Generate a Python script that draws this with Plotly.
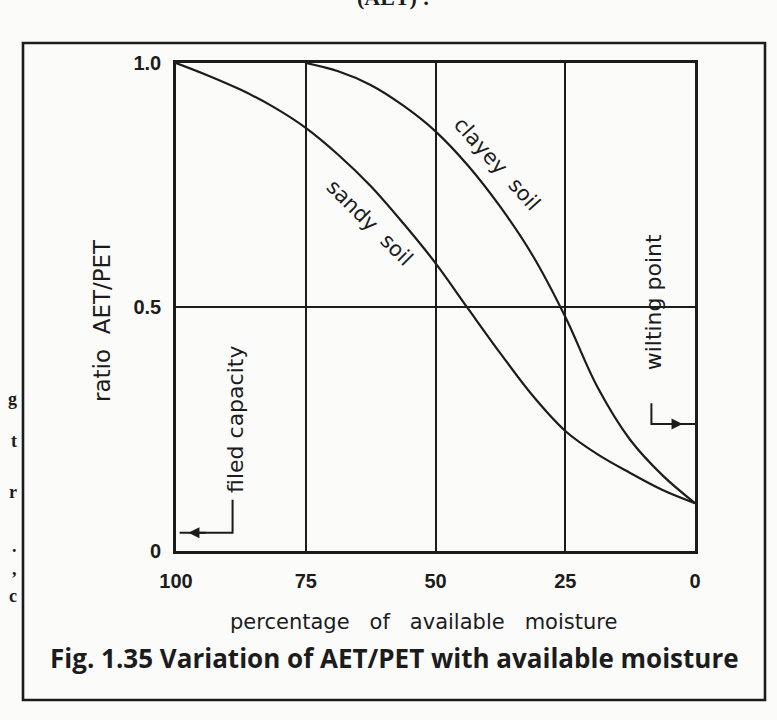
import plotly.graph_objects as go

# ---- data -------------------------------------------------------------
x_ticks = [100, 75, 50, 25, 0]
x_tick_text = ["100", "75", "50", "25", "0"]
y_ticks = [0, 0.5, 1.0]
y_tick_text = ["0", "0.5", "1.0"]

sandy_pct = [100, 93.75, 87.5, 81.25, 75, 68.75, 62.5, 56.25, 50,
             43.75, 37.5, 31.25, 25, 18.75, 12.5, 6.25, 0]
sandy_ratio = [1.0, 0.974, 0.945, 0.910, 0.867, 0.812, 0.748, 0.672, 0.590,
               0.497, 0.405, 0.318, 0.246, 0.198, 0.160, 0.125, 0.098]

clayey_pct = [75, 68.75, 62.5, 56.25, 50, 43.75, 37.5, 31.25, 25,
              18.75, 12.5, 6.25, 0]
clayey_ratio = [1.0, 0.983, 0.955, 0.913, 0.860, 0.790, 0.705, 0.605, 0.480,
                0.335, 0.228, 0.155, 0.098]

# ---- page geometry (pixels) --------------------------------------------
W, H = 777, 720
L, R, T, B = 176, 695, 63, 551


def px_x(x):
    return (x - L) / (R - L)


def px_y(y):
    return (B - y) / (B - T)


INK = "#1c1c1c"
PAPER = "#fbfbfa"
SANS = "DejaVu Sans"

fig = go.Figure()
for name, xs, ys in [("sandy soil", sandy_pct, sandy_ratio),
                     ("clayey soil", clayey_pct, clayey_ratio)]:
    fig.add_trace(go.Scatter(
        x=xs, y=ys, mode="lines", name=name,
        line=dict(color=INK, width=2.2, shape="spline", smoothing=1.0),
        hoverinfo="name+x+y",
    ))

axis_common = dict(
    showline=True, mirror=True, linecolor=INK, linewidth=2.6,
    showgrid=True, gridcolor=INK, gridwidth=2.2,
    zeroline=False, ticks="", fixedrange=True,
    tickfont=dict(family="Liberation Sans", size=20, color=INK, weight="bold"),
)

fig.update_xaxes(
    range=[100, 0], tickmode="array", tickvals=x_ticks, ticktext=x_tick_text,
    ticklabelstandoff=10, **axis_common,
)
fig.update_yaxes(
    range=[0, 1.0], tickmode="array", tickvals=y_ticks, ticktext=y_tick_text,
    ticklabelstandoff=8, **axis_common,
)


def note(x, y, text, ref="data", **kw):
    d = dict(x=x, y=y, text=text, showarrow=False,
             xanchor="center", yanchor="middle")
    if ref == "data":
        d.update(xref="x", yref="y")
    else:
        d.update(xref="paper", yref="paper")
    d.update(kw)
    return d


annotations = [
    # curve labels
    note(62.6, 0.673, "sandy\u00a0\u00a0soil", textangle=45,
         font=dict(family=SANS, size=21, color=INK)),
    note(38.1, 0.794, "clayey\u00a0\u00a0soil", textangle=48,
         font=dict(family=SANS, size=21, color=INK)),
    # moisture limits
    note(88.5, 0.27, "filed\u00a0capacity", textangle=-90,
         font=dict(family=SANS, size=22, color=INK)),
    note(8.05, 0.51, "wilting\u00a0point", textangle=-90,
         font=dict(family=SANS, size=22, color=INK)),
    # bracket arrows
    dict(x=97.6, y=0.0375, xref="x", yref="y", ax=94.0, ay=0.0375,
         axref="x", ayref="y", text="", showarrow=True, arrowhead=2,
         arrowsize=1.1, arrowwidth=2, arrowcolor=INK),
    dict(x=2.4, y=0.26, xref="x", yref="y", ax=5.8, ay=0.26,
         axref="x", ayref="y", text="", showarrow=True, arrowhead=2,
         arrowsize=1.1, arrowwidth=2, arrowcolor=INK),
    # axis titles
    note(px_x(102), px_y(321), "ratio\u00a0\u00a0AET/PET", ref="paper",
         textangle=-90, font=dict(family=SANS, size=23, color=INK)),
    note(px_x(423), px_y(622),
         "percentage\u00a0\u00a0\u00a0of\u00a0\u00a0\u00a0available\u00a0\u00a0\u00a0moisture",
         ref="paper", font=dict(family=SANS, size=21, color=INK)),
    # caption
    note(px_x(394), px_y(658),
         "<b>Fig. 1.35 Variation of AET/PET with available moisture</b>",
         ref="paper", font=dict(family="Open Sans", size=26, color=INK)),
    # running text of the page above the figure
    note(px_x(432), px_y(12), "<b>(AET) :</b>", ref="paper",
         xanchor="right", yanchor="bottom",
         font=dict(family="Liberation Serif", size=22, color=INK)),
]

for ch, yy in [("g", 399), ("t", 441), ("r", 492), (".", 546), (",", 569), ("c", 596)]:
    annotations.append(note(
        px_x(19), px_y(yy), "<b>%s</b>" % ch, ref="paper", xanchor="right",
        font=dict(family="Liberation Serif", size=18, color=INK)))

shapes = [
    # frame around the figure and its caption
    dict(type="rect", xref="paper", yref="paper",
         x0=px_x(23), x1=px_x(765), y0=px_y(700), y1=px_y(43),
         line=dict(color=INK, width=2.6), layer="below"),
    # bracket for field capacity
    dict(type="path", xref="x", yref="y",
         path="M 89.1,0.105 L 89.1,0.0375 L 99.3,0.0375",
         line=dict(color=INK, width=2)),
    # bracket for wilting point
    dict(type="path", xref="x", yref="y",
         path="M 8.4,0.303 L 8.4,0.26 L 0,0.26",
         line=dict(color=INK, width=2)),
]

fig.update_layout(
    width=W, height=H,
    margin=dict(l=L, r=W - R, t=T, b=H - B, pad=0),
    paper_bgcolor=PAPER, plot_bgcolor=PAPER,
    showlegend=False,
    annotations=annotations,
    shapes=shapes,
)

fig.write_html("out.html")
